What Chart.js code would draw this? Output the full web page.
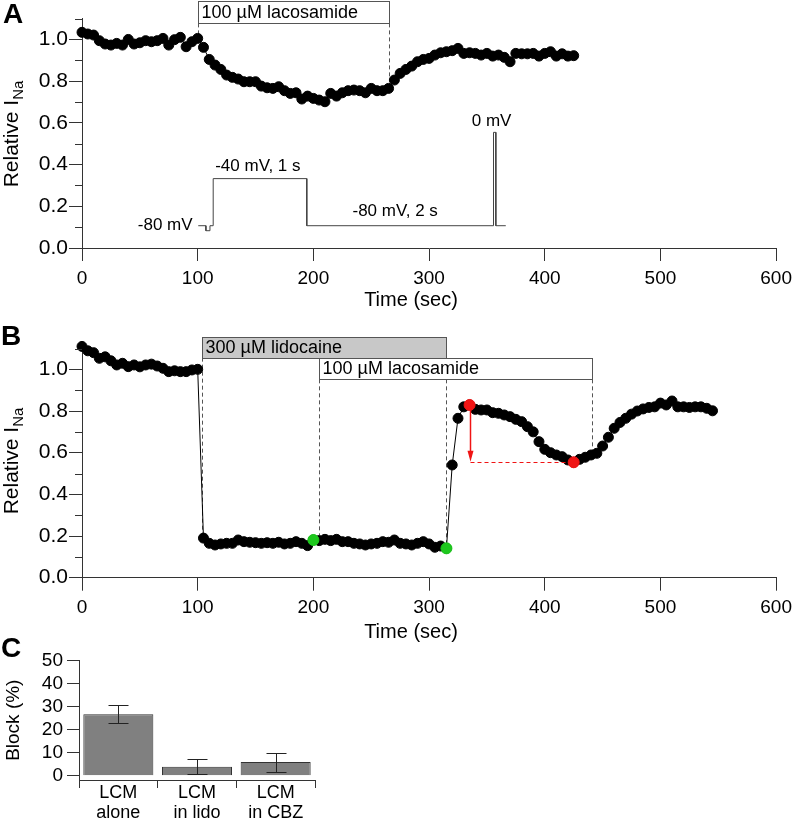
<!DOCTYPE html>
<html>
<head>
<meta charset="utf-8">
<script src="https://cdn.jsdelivr.net/npm/chart.js@4.4.1/dist/chart.umd.min.js"></script>
<style>
  body { margin: 0; background: #fff; width: 798px; height: 822px; position: relative; overflow: hidden;
         font-family: "Liberation Sans", Arial, sans-serif; }
  canvas { position: absolute; left: 0; }
  .letter { position: absolute; font-weight: bold; font-size: 28px; line-height: 28px; color: #000; }
</style>
</head>
<body>
<canvas id="chartA" width="798" height="312" style="top:0"></canvas>
<canvas id="chartB" width="798" height="319" style="top:325px"></canvas>
<canvas id="chartC" width="340" height="177" style="top:645px"></canvas>
<div class="letter" style="left:3px;top:0">A</div>
<div class="letter" style="left:1px;top:322px">B</div>
<div class="letter" style="left:1px;top:634px">C</div>
<script>
// sampling interval of the current recordings (one sweep every 5 s)
const SAMPLE_SEC = 5;

// Panel A: relative INa, 100 uM lacosamide alone
const relINaA = [
  1.035, 1.027, 1.022, 0.995, 0.979, 0.974, 0.982, 0.974, 1.001, 0.979,
  0.985, 0.995, 0.990, 0.995, 1.006, 0.974, 1.000, 1.011, 0.966, 0.990,
  1.006, 0.963, 0.905, 0.878, 0.857, 0.830, 0.819, 0.811, 0.798, 0.798,
  0.798, 0.777, 0.769, 0.766, 0.774, 0.755, 0.742, 0.745, 0.715, 0.729,
  0.718, 0.710, 0.702, 0.742, 0.729, 0.745, 0.755, 0.758, 0.755, 0.745,
  0.766, 0.755, 0.755, 0.766, 0.806, 0.838, 0.857, 0.873, 0.894, 0.905,
  0.910, 0.926, 0.937, 0.942, 0.947, 0.958, 0.934, 0.937, 0.934, 0.926,
  0.934, 0.921, 0.926, 0.915, 0.894, 0.934, 0.932, 0.932, 0.934, 0.921,
  0.934, 0.942, 0.921, 0.932, 0.921, 0.923
];

// Panel B: relative INa, lidocaine then lacosamide
const relINaB = [
  1.110, 1.089, 1.080, 1.053, 1.060, 1.041, 1.021, 1.029, 1.013, 1.021,
  1.012, 1.021, 1.025, 1.016, 1.005, 0.989, 0.993, 0.989, 0.989, 0.997,
  1.000, 0.190, 0.165, 0.157, 0.162, 0.165, 0.165, 0.181, 0.173, 0.170,
  0.168, 0.165, 0.168, 0.165, 0.170, 0.162, 0.165, 0.173, 0.165, 0.154,
  0.181, 0.178, 0.184, 0.178, 0.184, 0.173, 0.173, 0.165, 0.162, 0.157,
  0.162, 0.165, 0.173, 0.170, 0.181, 0.165, 0.162, 0.157, 0.165, 0.173,
  0.162, 0.146, 0.152, 0.141, 0.541, 0.765, 0.820, 0.829, 0.808, 0.805,
  0.805, 0.792, 0.789, 0.781, 0.773, 0.760, 0.749, 0.725, 0.700, 0.653,
  0.616, 0.600, 0.589, 0.581, 0.565, 0.554, 0.568, 0.578, 0.589, 0.597,
  0.632, 0.674, 0.717, 0.745, 0.765, 0.785, 0.800, 0.810, 0.817, 0.820,
  0.838, 0.829, 0.848, 0.820, 0.820, 0.817, 0.820, 0.820, 0.813, 0.801
];

// highlighted sweeps in panel B
const greenT = [200, 315];
const greenV = [0.181, 0.141];
const redT = [335, 425];
const redV = [0.829, 0.554];

// voltage protocol inset, drawn in panel A's units
const protoT = [100.5, 107.1, 107.1, 110.6, 110.6, 113.4, 113.4, 194.3, 194.3, 355.7, 355.7, 357.7, 357.7, 366.3];
const protoV = [0.107, 0.107, 0.083, 0.083, 0.107, 0.107, 0.333, 0.333, 0.107, 0.107, 0.555, 0.555, 0.107, 0.107];

const timeTicks = [0, 100, 200, 300, 400, 500, 600];
const relTicks = [0, 0.2, 0.4, 0.6, 0.8, 1.0];
const relMinorTicks = [0.1, 0.3, 0.5, 0.7, 0.9, 1.1];

// Panel C: block summary
const blockLabels = [['LCM', 'alone'], ['LCM', 'in lido'], ['LCM', 'in CBZ']];
const blockMean = [26.6, 3.9, 5.9];
const blockErr = [3.9, 3.2, 4.1];
const blockTicks = [0, 10, 20, 30, 40, 50];

const FONT = '"Liberation Sans", Arial, Helvetica, sans-serif';
const AXIS = '#333';

function sweepPoints(vals) {
  return vals.map((v, i) => ({ x: i * SAMPLE_SEC, y: v }));
}
function pairPoints(xs, ys) {
  return xs.map((x, i) => ({ x: x, y: ys[i] }));
}

// boxes, dashed markers, labels and hand-drawn axis bits for the time panels
function notesPlugin(notes) {
  return {
    id: 'notes',
    beforeDatasetsDraw(chart) {
      const { ctx, scales: { x, y } } = chart;
      ctx.save();
      ctx.strokeStyle = '#555';
      ctx.lineWidth = 1;
      ctx.setLineDash([4, 3]);
      (notes.dashes || []).forEach(d => {
        const px = Math.round(x.getPixelForValue(d.t)) + 0.5;
        ctx.beginPath();
        ctx.moveTo(px, y.getPixelForValue(d.from));
        ctx.lineTo(px, y.getPixelForValue(d.to));
        ctx.stroke();
      });
      ctx.restore();
    },
    afterDatasetsDraw(chart) {
      const { ctx, scales: { x, y } } = chart;
      ctx.save();
      // drug application bars
      (notes.boxes || []).forEach(b => {
        const x0 = Math.round(x.getPixelForValue(b.t0)), x1 = Math.round(x.getPixelForValue(b.t1));
        const yT = Math.round(y.getPixelForValue(b.v1)), yB = Math.round(y.getPixelForValue(b.v0));
        ctx.fillStyle = b.fill;
        ctx.fillRect(x0, yT, x1 - x0, yB - yT);
        ctx.strokeStyle = '#555';
        ctx.lineWidth = 1;
        ctx.strokeRect(x0 + 0.5, yT + 0.5, x1 - x0, yB - yT);
        ctx.fillStyle = '#000';
        ctx.font = '18px ' + FONT;
        ctx.textAlign = 'left';
        ctx.textBaseline = 'middle';
        ctx.fillText(b.text, x0 + 3.5, (yT + yB) / 2 + 1);
      });
      // protocol labels
      ctx.font = '17px ' + FONT;
      ctx.fillStyle = '#000';
      (notes.texts || []).forEach(t => {
        ctx.textAlign = t.align;
        ctx.fillText(t.text, x.getPixelForValue(t.t), y.getPixelForValue(t.v));
      });
      // red block arrow
      if (notes.arrow) {
        const a = notes.arrow;
        const px = Math.round(x.getPixelForValue(a.t)) + 0.5;
        const y0 = y.getPixelForValue(a.from), y1 = y.getPixelForValue(a.to);
        ctx.strokeStyle = '#f01414';
        ctx.fillStyle = '#f01414';
        ctx.lineWidth = 1.5;
        ctx.beginPath(); ctx.moveTo(px, y0); ctx.lineTo(px, y1 - 8); ctx.stroke();
        ctx.beginPath(); ctx.moveTo(px, y1); ctx.lineTo(px - 3, y1 - 11); ctx.lineTo(px + 3, y1 - 11); ctx.closePath(); ctx.fill();
        ctx.lineWidth = 1;
        ctx.setLineDash([4, 3]);
        const hy = Math.round(y1) + 0.5;
        ctx.beginPath();
        ctx.moveTo(px, hy);
        ctx.lineTo(x.getPixelForValue(a.toT), hy);
        ctx.stroke();
        ctx.setLineDash([]);
      }
      ctx.restore();
    },
    afterDraw(chart) {
      const { ctx, scales: { y }, chartArea } = chart;
      ctx.save();
      // minor ticks on the y axis
      ctx.strokeStyle = AXIS;
      ctx.lineWidth = 1;
      relMinorTicks.forEach(v => {
        const py = Math.round(y.getPixelForValue(v)) + 0.5;
        ctx.beginPath();
        ctx.moveTo(chartArea.left - 7, py);
        ctx.lineTo(chartArea.left, py);
        ctx.stroke();
      });
      // y title with subscript
      ctx.fillStyle = '#000';
      ctx.translate(notes.yTitleX, notes.yTitleY);
      ctx.rotate(-Math.PI / 2);
      ctx.textBaseline = 'alphabetic';
      ctx.textAlign = 'left';
      ctx.font = '21px ' + FONT;
      const main = 'Relative I';
      const w1 = ctx.measureText(main).width;
      ctx.font = '15px ' + FONT;
      const w2 = ctx.measureText('Na').width;
      ctx.font = '21px ' + FONT;
      ctx.fillText(main, -(w1 + w2) / 2, 0);
      ctx.font = '15px ' + FONT;
      ctx.fillText('Na', -(w1 + w2) / 2 + w1, 5);
      ctx.setTransform(1, 0, 0, 1, 0, 0);
      // x title
      ctx.font = '20px ' + FONT;
      ctx.textAlign = 'center';
      ctx.textBaseline = 'middle';
      ctx.fillText('Time (sec)', notes.xTitleX, notes.xTitleY);
      ctx.restore();
    }
  };
}

function timeScales(H, bottom) {
  return {
    x: {
      type: 'linear', min: 0, max: 600,
      afterBuildTicks: s => { s.ticks = timeTicks.map(v => ({ value: v })); },
      afterFit: s => { s.height = H - bottom; },
      border: { display: true, color: AXIS, width: 1 },
      grid: { drawOnChartArea: false, drawTicks: true, tickLength: 13, color: AXIS, tickColor: AXIS },
      ticks: { color: '#000', font: { family: FONT, size: 19 }, padding: 6, maxRotation: 0, autoSkip: false }
    },
    y: {
      type: 'linear', min: 0, max: 1.1,
      afterBuildTicks: s => { s.ticks = relTicks.map(v => ({ value: v })); },
      afterFit: s => { s.width = 82; },
      border: { display: true, color: AXIS, width: 1 },
      grid: { drawOnChartArea: false, drawTicks: true, tickLength: 13, color: AXIS, tickColor: AXIS },
      ticks: { color: '#000', font: { family: FONT, size: 21 }, padding: 1, autoSkip: false, callback: v => v.toFixed(1) }
    }
  };
}

function sweepDataset(vals) {
  return {
    data: sweepPoints(vals),
    showLine: true,
    borderColor: '#000',
    borderWidth: 1,
    pointRadius: 5,
    pointBackgroundColor: '#000',
    pointBorderColor: '#000',
    pointBorderWidth: 1,
    clip: false
  };
}

function dotDataset(xs, ys, color) {
  return {
    data: pairPoints(xs, ys),
    showLine: false,
    pointRadius: 5.5,
    pointBackgroundColor: color,
    pointBorderColor: color,
    pointBorderWidth: 1,
    clip: false
  };
}

const baseOptions = {
  responsive: false,
  animation: false,
  devicePixelRatio: 1,
  events: [],
  plugins: { legend: { display: false }, tooltip: { enabled: false } }
};

// Panel A
new Chart(document.getElementById('chartA'), {
  type: 'scatter',
  data: {
    datasets: [
      sweepDataset(relINaA),
      {
        data: pairPoints(protoT, protoV),
        showLine: true,
        borderColor: '#444',
        borderWidth: 1,
        pointRadius: 0
      }
    ]
  },
  options: Object.assign({}, baseOptions, {
    layout: { padding: { top: 18.8, right: 16, left: 0, bottom: 0 } },
    scales: timeScales(312, 248)
  }),
  plugins: [notesPlugin({
    yTitleX: 18, yTitleY: 134, xTitleX: 411, xTitleY: 300,
    boxes: [{ t0: 100, t1: 265.7, v0: 1.078, v1: 1.185, fill: '#ffffff', text: '100 \u00b5M lacosamide' }],
    dashes: [{ t: 100, from: 1.078, to: 1.03 }, { t: 265.7, from: 1.078, to: 0.806 }],
    texts: [
      { t: 95.6, v: 0.11, text: '-80 mV', align: 'right' },
      { t: 152, v: 0.394, text: '-40 mV, 1 s', align: 'center' },
      { t: 270.7, v: 0.178, text: '-80 mV, 2 s', align: 'center' },
      { t: 354, v: 0.606, text: '0 mV', align: 'center' }
    ]
  })]
});

// Panel B
new Chart(document.getElementById('chartB'), {
  type: 'scatter',
  data: {
    datasets: [
      dotDataset(greenT, greenV, '#1ec81e'),
      dotDataset(redT, redV, '#f01414'),
      sweepDataset(relINaB)
    ]
  },
  options: Object.assign({}, baseOptions, {
    layout: { padding: { top: 23.5, right: 16, left: 0, bottom: 0 } },
    scales: timeScales(319, 252.7)
  }),
  plugins: [notesPlugin({
    yTitleX: 18, yTitleY: 136, xTitleX: 411, xTitleY: 307,
    boxes: [
      { t0: 103.4, t1: 315, v0: 1.056, v1: 1.156, fill: '#c8c8c8', text: '300 \u00b5M lidocaine' },
      { t0: 204.8, t1: 440.8, v0: 0.952, v1: 1.053, fill: '#ffffff', text: '100 \u00b5M lacosamide' }
    ],
    dashes: [
      { t: 103.4, from: 1.056, to: 0.197 },
      { t: 204.8, from: 0.952, to: 0.205 },
      { t: 315, from: 0.952, to: 0.15 },
      { t: 440.8, from: 0.952, to: 0.598 }
    ],
    arrow: { t: 335, from: 0.82, to: 0.557, toT: 425 }
  })]
});

// Panel C: error bars drawn from the bar elements
const errorBars = {
  id: 'errorBars',
  afterDatasetsDraw(chart) {
    const { ctx, scales: { y } } = chart;
    const meta = chart.getDatasetMeta(0);
    ctx.save();
    ctx.strokeStyle = '#222';
    ctx.lineWidth = 1;
    meta.data.forEach((bar, i) => {
      const px = Math.round(bar.x) + 0.5;
      const yHi = Math.round(y.getPixelForValue(blockMean[i] + blockErr[i])) + 0.5;
      const yLo = Math.round(y.getPixelForValue(Math.max(blockMean[i] - blockErr[i], 0))) + 0.5;
      ctx.beginPath();
      ctx.moveTo(px, yHi); ctx.lineTo(px, yLo);
      ctx.moveTo(px - 10, yHi); ctx.lineTo(px + 10, yHi);
      ctx.moveTo(px - 10, yLo); ctx.lineTo(px + 10, yLo);
      ctx.stroke();
    });
    ctx.restore();
  }
};

new Chart(document.getElementById('chartC'), {
  type: 'bar',
  data: {
    labels: blockLabels,
    datasets: [{
      data: blockMean,
      backgroundColor: '#808080',
      borderColor: '#333',
      borderWidth: 1,
      categoryPercentage: 1.0,
      barPercentage: 0.89
    }]
  },
  options: Object.assign({}, baseOptions, {
    layout: { padding: { top: 15, right: 25, left: 0, bottom: 0 } },
    scales: {
      x: {
        type: 'category',
        afterFit: s => { s.height = 42; },
        border: { display: true, color: AXIS, width: 1 },
        grid: { offset: true, drawOnChartArea: false, drawTicks: true, tickLength: 8, color: AXIS, tickColor: AXIS },
        ticks: { color: '#000', font: { family: FONT, size: 18, lineHeight: 1.11 }, padding: -5, maxRotation: 0, autoSkip: false }
      },
      y: {
        type: 'linear', min: -1.86, max: 50,
        afterBuildTicks: s => { s.ticks = blockTicks.map(v => ({ value: v })); },
        afterFit: s => { s.width = 79; },
        border: { display: true, color: AXIS, width: 1 },
        grid: { drawOnChartArea: false, drawTicks: true, tickLength: 12, color: AXIS, tickColor: AXIS },
        ticks: { color: '#000', font: { family: FONT, size: 19 }, padding: 4, autoSkip: false },
        title: { display: true, text: 'Block (%)', color: '#000', font: { family: FONT, size: 19 }, padding: { top: 2, bottom: 0 } }
      }
    }
  }),
  plugins: [errorBars]
});
</script>
</body>
</html>
